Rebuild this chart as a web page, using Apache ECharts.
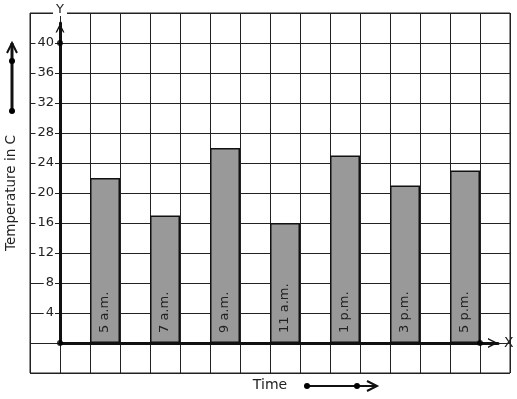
<!DOCTYPE html>
<html><head><meta charset="utf-8">
<script src="https://cdn.jsdelivr.net/npm/echarts@6/dist/echarts.min.js"></script>
<style>html,body{margin:0;padding:0;background:#fff}#c{width:517px;height:399px}</style>
</head><body><div id="c"></div>
<script>
// ---- data ----
const categories = ['5 a.m.', '7 a.m.', '9 a.m.', '11 a.m.', '1 p.m.', '3 p.m.', '5 p.m.'];
const temperatures = [22, 17, 26, 16, 25, 21, 23];
const barPositions = [1.5, 3.5, 5.5, 7.5, 9.5, 11.5, 13.5]; // x in graph-paper squares
const axisDots = [[0, 40], [0, 0], [14, 0]];
const yTickStep = 4;

const FONT = 'DejaVu Sans';
const INK = '#111';
const chevron = 'path://M0,10 L5,0 L10,10 L8.4,10 L5,3.2 L1.6,10 Z';

const chart = echarts.init(document.getElementById('c'), null, {renderer: 'canvas'});
chart.setOption({
  animation: false,
  backgroundColor: '#fff',
  textStyle: {fontFamily: FONT},
  grid: [
    {left: 30, top: 13, width: 480, height: 360, show: true, borderColor: '#222', borderWidth: 1, outerBoundsMode: 'none', containLabel: false},
    {left: 60, top: 23, right: 19, bottom: 56, outerBoundsMode: 'none', containLabel: false}
  ],
  xAxis: [
    {gridIndex: 0, type: 'value', min: -1, max: 15, interval: 1,
     axisLine: {show: false}, axisTick: {show: false}, axisLabel: {show: false},
     splitLine: {show: true, lineStyle: {color: '#222', width: 1}},
     name: 'Time', nameLocation: 'middle', nameGap: 5,
     nameTextStyle: {fontFamily: FONT, fontSize: 14, color: '#222', verticalAlign: 'top'}},
    {gridIndex: 1, type: 'value', min: 0, max: 14.6, z: 5,
     axisLine: {show: true, onZero: false, lineStyle: {color: INK, width: 3},
                symbol: ['none', chevron], symbolSize: [11, 10], symbolOffset: [0, -5]},
     axisTick: {show: false}, axisLabel: {show: false}, splitLine: {show: false},
     name: 'X', nameLocation: 'end', nameGap: 6,
     nameTextStyle: {fontFamily: FONT, fontSize: 14, color: '#222', verticalAlign: 'middle'}}
  ],
  yAxis: [
    {gridIndex: 0, type: 'value', min: -4, max: 44, interval: 4,
     axisLine: {show: false}, axisTick: {show: false}, axisLabel: {show: false},
     splitLine: {show: true, lineStyle: {color: '#222', width: 1}},
     name: 'Temperature in C', nameLocation: 'middle', nameGap: 12, nameRotate: 90,
     nameTextStyle: {fontFamily: FONT, fontSize: 13.5, color: '#222'}},
    {gridIndex: 1, type: 'value', min: 0, max: (343 - 23) / 7.5, interval: yTickStep, z: 5,
     axisLine: {show: true, onZero: false, lineStyle: {color: INK, width: 3},
                symbol: ['none', chevron], symbolSize: [9, 10], symbolOffset: [0, -5]},
     axisTick: {show: false}, splitLine: {show: false},
     axisLabel: {show: true, showMinLabel: false, showMaxLabel: false, margin: 5,
                 fontFamily: FONT, fontSize: 13, color: '#222',
                 backgroundColor: '#fff', padding: [0, 1, 0, 2]},
     name: 'Y', nameLocation: 'end', nameGap: 7,
     nameTextStyle: {fontFamily: FONT, fontSize: 13, color: '#222', backgroundColor: '#fff', padding: [0, 3, 0, 3]}}
  ],
  series: [
    {type: 'bar', xAxisIndex: 1, yAxisIndex: 1, barWidth: 30, z: 3,
     data: categories.map((c, i) => ({name: c, value: [barPositions[i], temperatures[i]]})),
     itemStyle: {color: '#999999', borderColor: '#111', borderWidth: 1.5},
     label: {show: true, position: 'insideBottom', rotate: 90, distance: 10,
             align: 'left', verticalAlign: 'middle',
             formatter: '{b}', fontFamily: FONT, fontSize: 13, color: '#222'}},
    {type: 'scatter', xAxisIndex: 1, yAxisIndex: 1, z: 6, symbol: 'circle', symbolSize: 6,
     itemStyle: {color: '#000'}, data: axisDots}
  ],
  graphic: [
    {type: 'line', shape: {x1: 12, y1: 43, x2: 12, y2: 111}, style: {stroke: INK, lineWidth: 3}},
    {type: 'polyline', shape: {points: [[7, 53], [12, 43], [17, 53]]}, style: {stroke: INK, lineWidth: 2, fill: null}},
    {type: 'circle', shape: {cx: 12, cy: 61, r: 3}, style: {fill: '#000'}},
    {type: 'circle', shape: {cx: 12, cy: 111, r: 3}, style: {fill: '#000'}},
    {type: 'line', shape: {x1: 307, y1: 386, x2: 377, y2: 386}, style: {stroke: INK, lineWidth: 2}},
    {type: 'polyline', shape: {points: [[367, 381], [377, 386], [367, 391]]}, style: {stroke: INK, lineWidth: 2, fill: null}},
    {type: 'circle', shape: {cx: 307, cy: 386, r: 3}, style: {fill: '#000'}},
    {type: 'circle', shape: {cx: 357, cy: 386, r: 3}, style: {fill: '#000'}}
  ]
});
</script></body></html>
